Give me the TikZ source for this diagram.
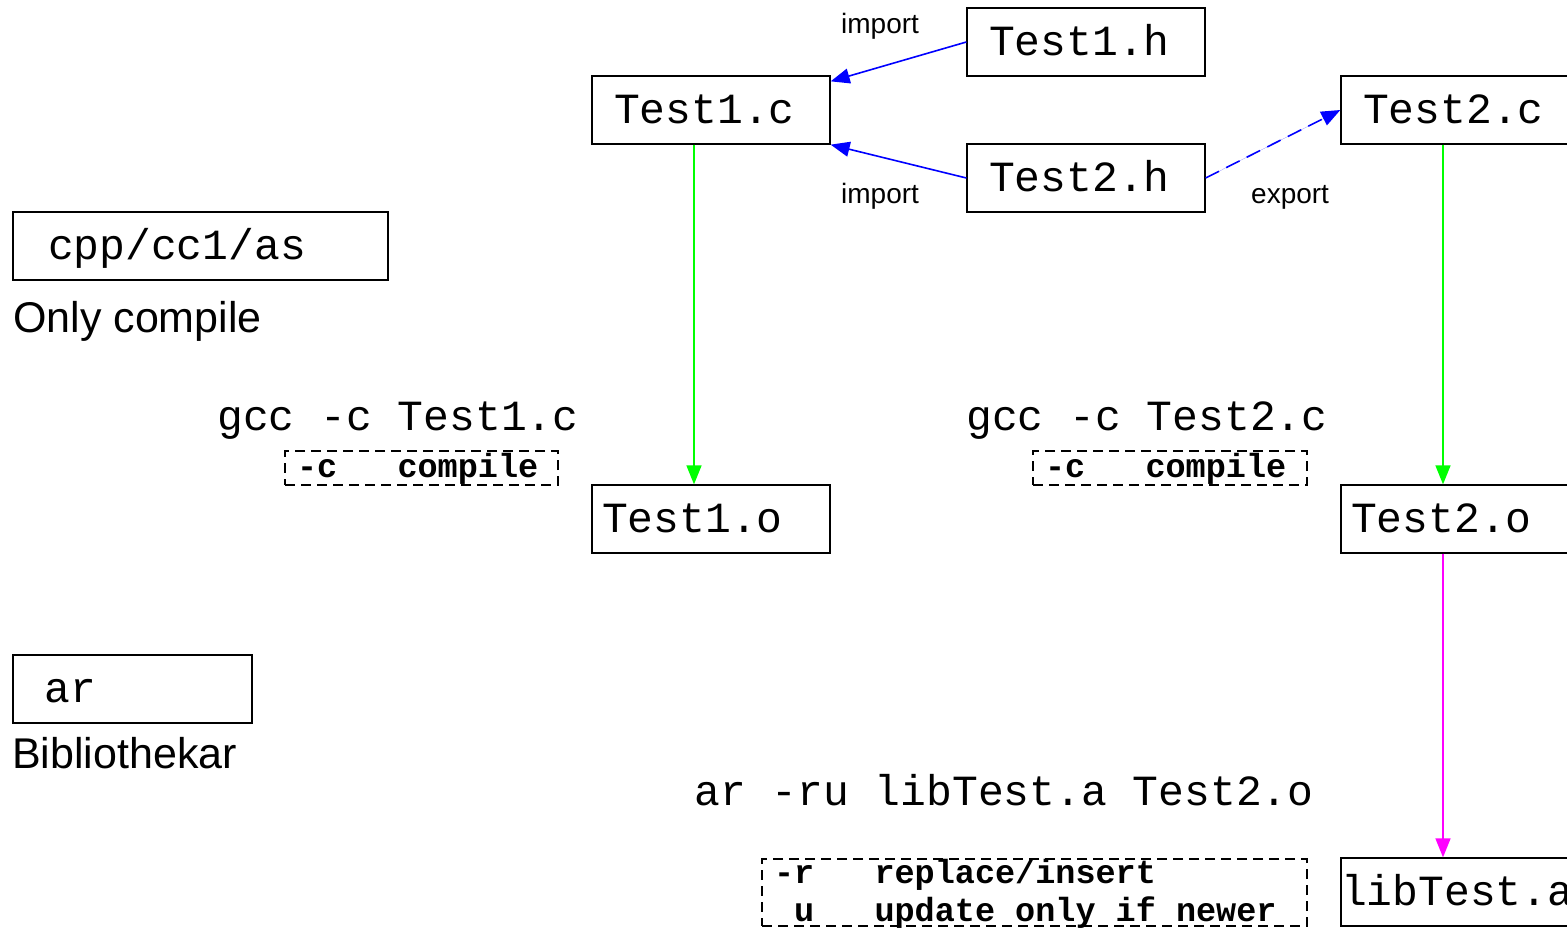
\documentclass[tikz,border=0pt]{standalone}
\usepackage{fontspec}
\setmainfont{Liberation Sans}
\newfontfamily\monof{Liberation Mono}
\usetikzlibrary{arrows.meta}
\newcommand\bigmono{\monof\fontsize{43}{50}\selectfont}
\newcommand\optmono{\monof\bfseries\fontsize{33.5}{38}\selectfont}
\newcommand\bigsans{\fontsize{43}{50}\selectfont}
\newcommand\smallsans{\fontsize{28}{32}\selectfont}
\newcommand\msp{\hphantom{x}}
\definecolor{pureblue}{RGB}{0,0,255}
\definecolor{puregreen}{RGB}{0,255,0}
\definecolor{puremagenta}{RGB}{255,0,255}
\begin{document}
\begin{tikzpicture}[x=1pt,y=-1pt,
  filebox/.style={draw, line width=1.3pt, minimum height=68pt, inner ysep=0pt,
    text height=47pt, text depth=21pt, font=\bigmono, align=left},
  optbox/.style={draw, dashed, dash pattern=on 10pt off 6pt, line width=1.1pt,
    inner ysep=0pt, inner xsep=12pt, font=\optmono, align=left},
  cmdlabel/.style={anchor=base west, inner sep=0pt, font=\bigmono},
  biglabel/.style={anchor=base west, inner sep=0pt, font=\bigsans},
  smalllabel/.style={anchor=base west, inner sep=0pt, font=\smallsans},
  tip/.style={-{Triangle[length=19pt,width=15pt]}},
  imparrow/.style={tip, draw=pureblue, fill=pureblue, line width=1.6pt},
  comparrow/.style={tip, draw=puregreen, fill=puregreen, line width=1.6pt},
  libarrow/.style={tip, draw=puremagenta, fill=puremagenta, line width=1.6pt}]
\useasboundingbox (0,0) rectangle (1567,927);

% file boxes
\node[filebox, inner xsep=22pt, text width=194pt] (t1h) at (1086,42) {Test1.h};
\node[filebox, inner xsep=22pt, text width=194pt] (t1c) at (711,110) {Test1.c};
\node[filebox, inner xsep=22pt, text width=194pt] (t2h) at (1086,178) {Test2.h};
\node[filebox, inner xsep=22pt, text width=194pt] (t2c) at (1460,110) {Test2.c};
\node[filebox, inner xsep=10pt, text width=218pt] (t1o) at (711,519) {Test1.o};
\node[filebox, inner xsep=10pt, text width=218pt] (t2o) at (1460,519) {Test2.o};
\node[filebox, inner xsep=0pt, text width=238pt] (lib) at (1460,892) {libTest.a};
\node[filebox, inner xsep=35pt, text width=305pt] (cpp) at (200.5,246) {cpp/cc1/as};
\node[filebox, inner xsep=32pt, text width=175pt] (arb) at (132.5,689) {ar};

% side captions
\node[biglabel] (onlycomp) at (13,332) {Only compile};
\node[biglabel] (biblio) at (12,768) {Bibliothekar};

% commands
\node[cmdlabel] (gcc1) at (217,430) {gcc -c Test1.c};
\node[cmdlabel] (gcc2) at (966,430) {gcc -c Test2.c};
\node[cmdlabel] (arcmd) at (694,805) {ar -ru libTest.a Test2.o};

% option boxes
\node[optbox, text width=249pt, text height=26pt, text depth=8pt] (opt1) at (421.5,468)
  {-c\msp\msp\msp compile};
\node[optbox, text width=250pt, text height=26pt, text depth=8pt] (opt2) at (1170,468)
  {-c\msp\msp\msp compile};
\node[optbox, text width=521pt, text height=24pt, text depth=43pt] (opt3) at (1034.5,892.5)
  {-r\msp\msp\msp replace/insert\\\msp u\msp\msp\msp update\msp only\msp if\msp newer};

% arrow labels
\node[smalllabel] (imp1) at (841,33) {import};
\node[smalllabel] (imp2) at (841,203) {import};
\node[smalllabel] (exp) at (1251,203) {export};

% connectors
\draw[imparrow] (t1h.west) -- ([yshift=-6pt]t1c.north east);
\draw[imparrow] (t2h.west) -- (t1c.south east);
\draw[imparrow, dash pattern=on 15pt off 8pt] (t2h.east) -- (t2c.west);
\draw[comparrow] ([xshift=-17pt]t1c.south) -- ([xshift=-17pt]t1o.north);
\draw[comparrow] ([xshift=-17pt]t2c.south) -- ([xshift=-17pt]t2o.north);
\draw[libarrow] ([xshift=-17pt]t2o.south) -- ([xshift=-17pt]lib.north);
\end{tikzpicture}
\end{document}
